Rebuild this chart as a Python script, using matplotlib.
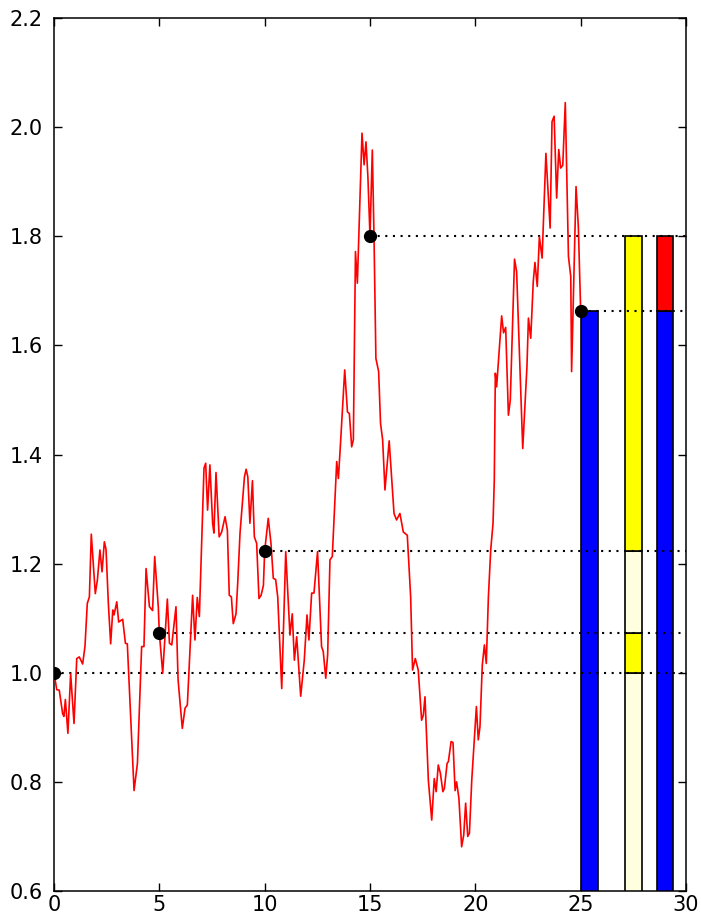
import matplotlib

matplotlib.use("Agg")
import matplotlib.pyplot as plt

# price path vertices
path_x = [
    0.00, 0.13, 0.25, 0.41, 0.47, 0.54, 0.66, 0.79, 0.95, 1.08, 1.20, 1.36, 1.47,
    1.58, 1.68, 1.77, 1.96, 2.06, 2.18, 2.28, 2.39, 2.47, 2.58, 2.69, 2.79, 2.85,
    2.98, 3.07, 3.26, 3.39, 3.48, 3.80, 3.96, 4.16, 4.27, 4.37, 4.53, 4.68, 4.78,
    4.95, 5.00, 5.16, 5.38, 5.48, 5.59, 5.79, 5.89, 6.09, 6.22, 6.33, 6.58, 6.69,
    6.80, 6.90, 7.12, 7.20, 7.29, 7.40, 7.53, 7.59, 7.69, 7.84, 7.96, 8.12, 8.23,
    8.32, 8.42, 8.51, 8.64, 8.72, 8.83, 9.04, 9.12, 9.20, 9.30, 9.42, 9.51, 9.62,
    9.73, 9.83, 9.94, 10.00, 10.17, 10.30, 10.41, 10.52, 10.62, 10.81, 11.00,
    11.20, 11.31, 11.41, 11.52, 11.71, 11.88, 12.01, 12.10, 12.23, 12.34, 12.51,
    12.70, 12.78, 12.90, 12.99, 13.10, 13.21, 13.29, 13.42, 13.50, 13.61, 13.80,
    13.93, 14.02, 14.13, 14.21, 14.31, 14.40, 14.62, 14.72, 14.81, 14.90, 15.00,
    15.11, 15.19, 15.28, 15.41, 15.50, 15.60, 15.71, 15.91, 16.14, 16.26, 16.42,
    16.58, 16.77, 16.93, 17.02, 17.15, 17.29, 17.45, 17.53, 17.61, 17.77, 17.93,
    18.05, 18.14, 18.24, 18.34, 18.46, 18.53, 18.66, 18.72, 18.85, 18.94, 19.04,
    19.11, 19.22, 19.35, 19.45, 19.54, 19.64, 19.72, 19.83, 20.05, 20.14, 20.22,
    20.33, 20.43, 20.52, 20.62, 20.73, 20.84, 20.90, 20.95, 21.01, 21.25, 21.34,
    21.44, 21.57, 21.66, 21.86, 21.96, 22.25, 22.45, 22.52, 22.63, 22.75, 22.83,
    22.94, 23.04, 23.17, 23.35, 23.55, 23.64, 23.74, 23.86, 23.96, 24.05, 24.15,
    24.27, 24.42, 24.53, 24.57, 24.78, 24.89, 25.00,
]
path_y = [
    1.000, 0.969, 0.968, 0.925, 0.920, 0.951, 0.889, 0.998, 0.907, 1.026, 1.029,
    1.016, 1.048, 1.127, 1.139, 1.254, 1.145, 1.170, 1.225, 1.185, 1.240, 1.226,
    1.127, 1.053, 1.115, 1.106, 1.130, 1.093, 1.098, 1.054, 1.053, 0.784, 0.834,
    1.048, 1.048, 1.191, 1.121, 1.114, 1.213, 1.121, 1.073, 0.999, 1.135, 1.054,
    1.051, 1.121, 0.987, 0.898, 0.935, 0.941, 1.142, 1.060, 1.138, 1.103, 1.375,
    1.384, 1.298, 1.381, 1.274, 1.256, 1.367, 1.249, 1.258, 1.286, 1.261, 1.142,
    1.139, 1.090, 1.108, 1.164, 1.256, 1.359, 1.373, 1.359, 1.274, 1.352, 1.249,
    1.237, 1.136, 1.142, 1.160, 1.223, 1.283, 1.237, 1.173, 1.171, 1.139, 0.971,
    1.222, 1.069, 1.108, 1.023, 1.066, 0.957, 1.023, 1.106, 1.060, 1.146, 1.146,
    1.222, 1.048, 1.039, 0.990, 1.033, 1.207, 1.213, 1.280, 1.387, 1.356, 1.427,
    1.555, 1.478, 1.475, 1.414, 1.427, 1.772, 1.714, 1.989, 1.931, 1.973, 1.909,
    1.800, 1.958, 1.800, 1.576, 1.552, 1.457, 1.427, 1.335, 1.425, 1.292, 1.280,
    1.292, 1.258, 1.252, 1.139, 1.005, 1.026, 1.005, 0.913, 0.922, 0.956, 0.803,
    0.730, 0.806, 0.782, 0.831, 0.816, 0.782, 0.788, 0.834, 0.837, 0.874, 0.872,
    0.784, 0.800, 0.770, 0.681, 0.703, 0.761, 0.700, 0.706, 0.803, 0.938, 0.877,
    0.901, 1.014, 1.051, 1.017, 1.139, 1.225, 1.274, 1.353, 1.549, 1.524, 1.654,
    1.623, 1.633, 1.472, 1.500, 1.758, 1.735, 1.411, 1.561, 1.650, 1.613, 1.717,
    1.752, 1.708, 1.799, 1.760, 1.952, 1.815, 2.010, 2.020, 1.870, 1.959, 1.925,
    1.930, 2.045, 1.763, 1.726, 1.552, 1.891, 1.817, 1.663,
]

# sampled points on the path
sample_x = [0, 5, 10, 15, 25]
sample_y = [1.000, 1.073, 1.223, 1.800, 1.663]

# stacked bar segments: (left edge, bottom, top, colour)
bar_left = [25.0, 27.1, 27.1, 27.1, 27.1, 28.6, 28.6]
bar_bottom = [0.0, 0.0, 1.000, 1.073, 1.223, 0.0, 1.663]
bar_top = [1.663, 1.000, 1.073, 1.223, 1.800, 1.663, 1.800]
bar_color = ["blue", "lightyellow", "yellow", "lightyellow", "yellow", "blue", "red"]

plt.rcParams["lines.scale_dashes"] = False

fig = plt.figure(figsize=(7.01, 9.17), dpi=100)
ax = fig.add_axes([54 / 701, 1 - 891 / 917, 632 / 701, 873 / 917])

for left, bottom, top, color in zip(bar_left, bar_bottom, bar_top, bar_color):
    ax.bar(left, top - bottom, bottom=bottom, width=0.8, align="edge",
           color=color, edgecolor="black", linewidth=1.2, zorder=2)

for sx, sy in zip(sample_x, sample_y):
    ax.plot([sx, 30], [sy, sy], color="black", linestyle=(0, (1.5, 4.0)),
            linewidth=1.5, zorder=3)

ax.plot(path_x, path_y, color="red", linewidth=1.2, zorder=4)
ax.plot(sample_x, sample_y, "o", color="black", markersize=8.5, zorder=5)

ax.set_xlim(0, 30)
ax.set_ylim(0.6, 2.2)
ax.set_xticks(range(0, 31, 5))
ax.set_yticks([0.6, 0.8, 1.0, 1.2, 1.4, 1.6, 1.8, 2.0, 2.2])
ax.set_yticklabels([f"{v:.1f}" for v in ax.get_yticks()])
ax.tick_params(direction="in", top=True, right=True, length=6, width=1,
               labelsize=15)
ax.tick_params(axis="y", pad=8)
ax.tick_params(axis="x", pad=3)
for spine in ax.spines.values():
    spine.set_linewidth(1.1)

fig.savefig("out.png", dpi=100)
